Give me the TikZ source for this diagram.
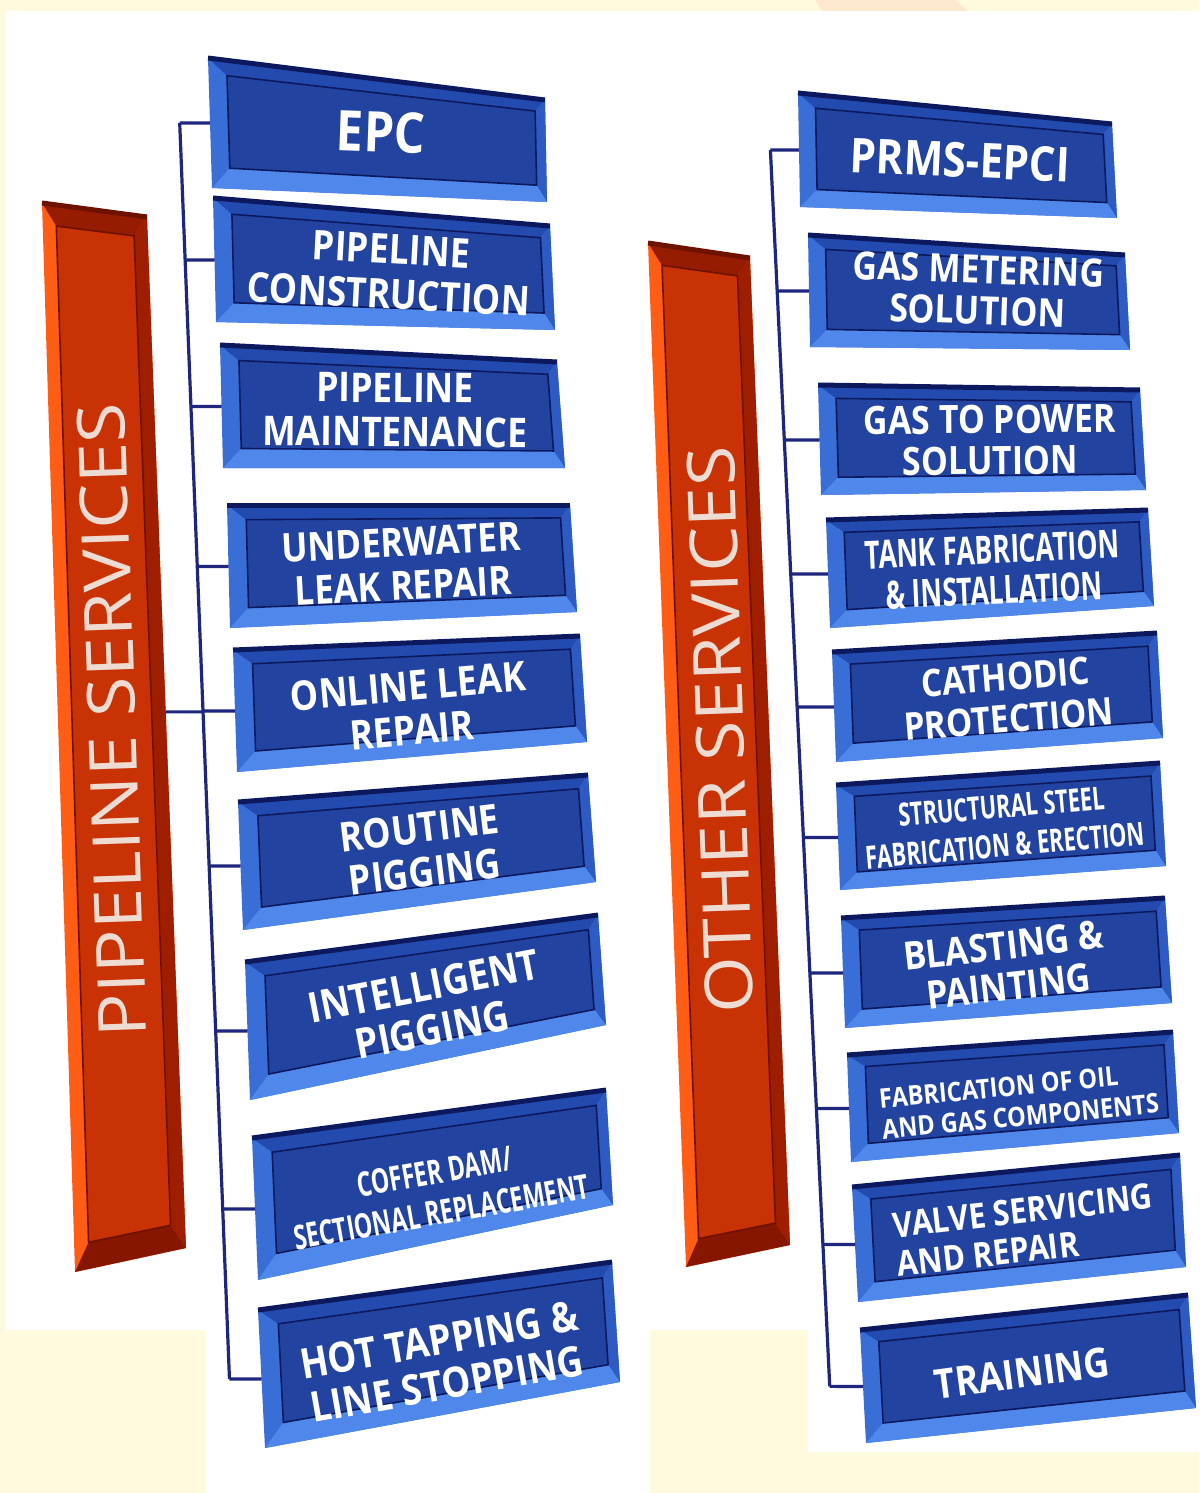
\documentclass[tikz,border=0pt]{standalone}
\usepackage{fontspec}
\usetikzlibrary{calc}
\newfontfamily\boxfont{Open Sans}[FakeStretch=0.87]
\newfontfamily\narrowfont{Open Sans}[FakeStretch=0.68]
\newfontfamily\barfont{Open Sans}[FakeStretch=1.1]
\definecolor{paper}{RGB}{255,250,222}
\definecolor{peach}{RGB}{253,232,205}
\definecolor{linkblue}{RGB}{30,38,125}
\definecolor{boxleft}{RGB}{58,110,215}
\definecolor{boxtop}{RGB}{35,75,175}
\definecolor{boxright}{RGB}{45,90,195}
\definecolor{boxbot}{RGB}{80,135,235}
\definecolor{boxface}{RGB}{35,67,160}
\definecolor{boxedge}{RGB}{12,25,95}
\definecolor{barleft}{RGB}{255,92,20}
\definecolor{bartop}{RGB}{150,28,0}
\definecolor{barright}{RGB}{160,30,0}
\definecolor{barbot}{RGB}{135,22,0}
\definecolor{barface}{RGB}{200,50,5}
\definecolor{baredge}{RGB}{110,18,0}
\definecolor{bartext}{RGB}{238,220,210}

% frame insets: left, right, top, bottom
\newcommand{\bvset}[4]{\def\bvl{#1}\def\bvr{#2}\def\bvt{#3}\def\bvb{#4}}
% bevelled block: name, four corners (tl,tr,br,bl), palette
\newcommand{\bevel}[6]{%
  \coordinate (#1-tl) at #2; \coordinate (#1-tr) at #3;
  \coordinate (#1-br) at #4; \coordinate (#1-bl) at #5;
  \coordinate (#1-a) at ($(#1-tl)!\bvl!(#1-tr)$);
  \coordinate (#1-b) at ($(#1-bl)!\bvl!(#1-br)$);
  \coordinate (#1-c) at ($(#1-tl)!\bvr!(#1-tr)$);
  \coordinate (#1-d) at ($(#1-bl)!\bvr!(#1-br)$);
  \coordinate (#1-itl) at ($(#1-a)!\bvt!(#1-b)$);
  \coordinate (#1-ibl) at ($(#1-a)!\bvb!(#1-b)$);
  \coordinate (#1-itr) at ($(#1-c)!\bvt!(#1-d)$);
  \coordinate (#1-ibr) at ($(#1-c)!\bvb!(#1-d)$);
  \fill[#6left] (#1-tl) -- (#1-tr) -- (#1-br) -- (#1-bl) -- cycle;
  \fill[#6top] (#1-tl) -- (#1-tr) -- (#1-itr) -- (#1-itl) -- cycle;
  \fill[#6right] (#1-tr) -- (#1-br) -- (#1-ibr) -- (#1-itr) -- cycle;
  \fill[#6bot] (#1-bl) -- (#1-br) -- (#1-ibr) -- (#1-ibl) -- cycle;
  \filldraw[fill=#6face, draw=#6edge, line width=.8pt] (#1-itl) -- (#1-itr) -- (#1-ibr) -- (#1-ibl) -- cycle;
  \draw[#6edge, line width=2.5pt] (#1-tl) -- (#1-tr);
  \coordinate (#1-w) at ($(#1-tl)!.5!(#1-bl)$);
  \coordinate (#1-h) at ($(#1-w)+(-200,0)$);
}

\begin{document}
\begin{tikzpicture}[x=0.5pt, y=-0.5pt,
    link/.style={draw=linkblue, line width=1.6pt},
    svc/.style={text=white, align=center, inner sep=0pt},
    boxsize/.style 2 args={font=\boxfont\bfseries\fontsize{#1}{#2}\selectfont},
    narrowsize/.style 2 args={font=\narrowfont\bfseries\fontsize{#1}{#2}\selectfont},
    bartxt/.style={text=bartext, inner sep=0pt, font=\barfont\fontsize{33}{36}\selectfont}]
\useasboundingbox (0,0) rectangle (1199,1493);
% background
\fill[paper] (0,0) rectangle (1199,1493);
\fill[peach] (815,0) -- (955,0) -- (968,11) -- (822,11) -- cycle;
\fill[white] (6,11) -- (1199,11) -- (1199,1452) -- (808,1452) -- (808,1330) -- (650,1330)
  -- (650,1493) -- (205,1493) -- (205,1330) -- (6,1330) -- cycle;

% orange bars
\bvset{.13}{.87}{.02}{.975}
\bevel{pipe}{(42,203)}{(147,217)}{(186,1248)}{(75,1272)}{bar}
\bevel{other}{(648,243)}{(750,258)}{(790,1245)}{(686,1267)}{bar}
\node[bartxt, rotate=92] (pipebar) at (112,720) {PIPELINE SERVICES};
\node[bartxt, rotate=92] (otherbar) at (720,730) {OTHER SERVICES};

% pipeline service blocks
\bvset{.055}{.97}{.12}{.84}
\bevel{epc}{(208,58)}{(545,100)}{(547,202)}{(212,188)}{box}
\bevel{constr}{(213,198)}{(550,226)}{(555,330)}{(216,322)}{box}
\bevel{maint}{(220,345)}{(557,362)}{(565,468)}{(223,468)}{box}
\bevel{under}{(227,505)}{(570,505)}{(577,612)}{(230,628)}{box}
\bevel{online}{(233,650)}{(580,636)}{(587,742)}{(237,772)}{box}
\bevel{routine}{(238,802)}{(588,775)}{(596,882)}{(243,930)}{box}
\bevel{intel}{(245,962)}{(598,915)}{(606,1025)}{(250,1100)}{box}
\bevel{coffer}{(252,1138)}{(606,1090)}{(613,1205)}{(258,1280)}{box}
\bevel{hot}{(258,1310)}{(612,1262)}{(620,1382)}{(265,1448)}{box}

% other service blocks
\bevel{prms}{(798,93)}{(1112,124)}{(1117,218)}{(800,207)}{box}
\bevel{gasm}{(808,235)}{(1125,255)}{(1130,350)}{(810,347)}{box}
\bevel{gasp}{(818,385)}{(1140,390)}{(1146,490)}{(821,495)}{box}
\bevel{tank}{(826,520)}{(1148,510)}{(1154,606)}{(830,628)}{box}
\bevel{cath}{(832,652)}{(1157,633)}{(1163,738)}{(836,762)}{box}
\bevel{struct}{(836,785)}{(1160,763)}{(1166,866)}{(840,890)}{box}
\bevel{blast}{(841,918)}{(1165,898)}{(1172,1003)}{(845,1028)}{box}
\bevel{fab}{(847,1055)}{(1173,1032)}{(1179,1133)}{(851,1162)}{box}
\bevel{valve}{(852,1187)}{(1180,1155)}{(1186,1267)}{(858,1302)}{box}
\bevel{train}{(860,1330)}{(1188,1295)}{(1196,1408)}{(866,1443)}{box}

% tree lines
\coordinate (ltop) at (179,105);
\coordinate (lbot) at (230,1392);
\coordinate (rtop) at (770,140);
\coordinate (rbot) at (830,1390);
\foreach \n in {epc,constr,maint,under,online,routine,intel,coffer,hot}
  \coordinate (\n-j) at (intersection of ltop--lbot and \n-w--\n-h);
\foreach \n in {prms,gasm,gasp,tank,cath,struct,blast,fab,valve,train}
  \coordinate (\n-j) at (intersection of rtop--rbot and \n-w--\n-h);
\draw[link] (epc-j) -- (hot-j);
\draw[link] (prms-j) -- (train-j);
\foreach \n in {epc,constr,maint,under,online,routine,intel,coffer,hot,
                prms,gasm,gasp,tank,cath,struct,blast,fab,valve,train}
  \draw[link] (\n-j) -- (\n-w);
\coordinate (pipe-e) at ($(pipe-tr)!.48!(pipe-br)$);
\coordinate (pipe-f) at ($(pipe-e)+(100,0)$);
\draw[link] (pipe-e) -- (intersection of ltop--lbot and pipe-e--pipe-f);

% labels
\node[svc, boxsize={28}{30}, rotate=-2] (epc) at (381,132) {EPC};
\node[svc, boxsize={20.5}{22.5}, rotate=-3] (constr) at (390,272) {PIPELINE\\CONSTRUCTION};
\node[svc, boxsize={20.5}{22}, rotate=-.5] (maint) at (395,410) {PIPELINE\\MAINTENANCE};
\node[svc, boxsize={20}{22}, rotate=3] (under) at (402,564) {UNDERWATER\\LEAK REPAIR};
\node[svc, boxsize={20.5}{22}, rotate=5] (online) at (410,708) {ONLINE LEAK\\REPAIR};
\node[svc, boxsize={20.5}{22}, rotate=7] (routine) at (422,850) {ROUTINE\\PIGGING};
\node[svc, boxsize={21}{22.5}, rotate=11] (intel) at (428,1008) {INTELLIGENT\\PIGGING};
\node[svc, narrowsize={17}{20.5}, rotate=10] (coffer) at (438,1192) {COFFER DAM/\\SECTIONAL REPLACEMENT};
\node[svc, boxsize={21}{22.5}, rotate=10] (hot) at (443,1362) {HOT TAPPING \&\\LINE STOPPING};

\node[svc, boxsize={24}{26}, rotate=-2.5] (prms) at (960,160) {PRMS-EPCI};
\node[svc, boxsize={19.5}{20.5}, rotate=-2] (gasm) at (978,290) {GAS METERING\\SOLUTION};
\node[svc, boxsize={19.5}{20.5}, rotate=.5] (gasp) at (990,440) {GAS TO POWER\\SOLUTION};
\node[svc, narrowsize={19.5}{20.5}, rotate=2.5] (tank) at (993,570) {TANK FABRICATION\\\& INSTALLATION};
\node[svc, boxsize={19}{21}, rotate=4.5] (cath) at (1007,698) {CATHODIC\\PROTECTION};
\node[svc, narrowsize={16}{19.5}, rotate=5] (struct) at (1003,826) {STRUCTURAL STEEL\\FABRICATION \& ERECTION};
\node[svc, boxsize={19.5}{20.5}, rotate=6.5] (blast) at (1006,966) {BLASTING \&\\PAINTING};
\node[svc, boxsize={13.5}{15.5}, rotate=5.5, align=left] (fab) at (1019,1101) {FABRICATION OF OIL\\AND GAS COMPONENTS};
\node[svc, boxsize={17.5}{19.5}, rotate=6.5, align=left] (valve) at (1025,1230) {VALVE SERVICING\\AND REPAIR};
\node[svc, boxsize={20.5}{22}, rotate=7.5] (train) at (1022,1373) {TRAINING};
\end{tikzpicture}
\end{document}
